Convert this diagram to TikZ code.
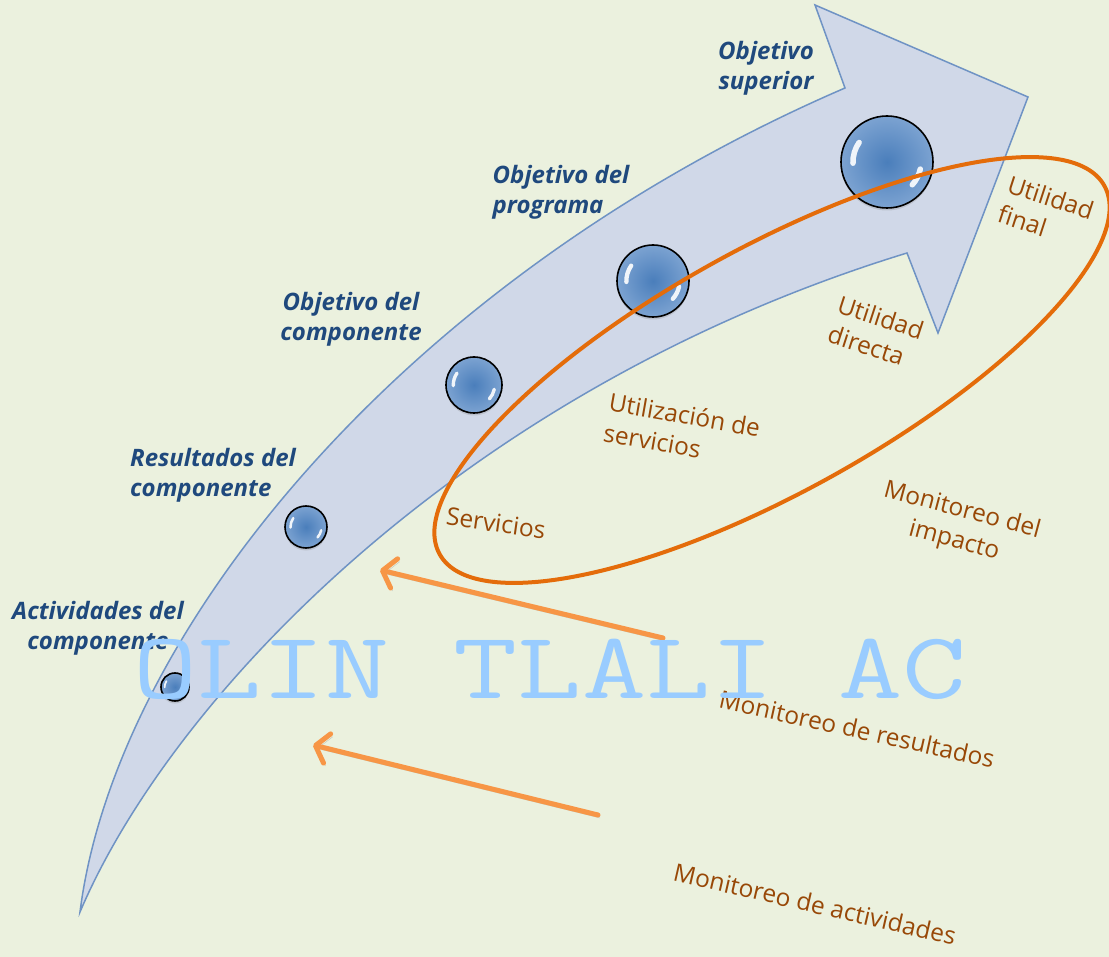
\documentclass[tikz,border=0pt]{standalone}
\usepackage{fontspec}
\newfontfamily\lblfont{Open Sans}
\usetikzlibrary{arrows.meta,shapes.geometric,shadows}
\definecolor{bgcol}{HTML}{EBF1DE}
\definecolor{shaftfill}{HTML}{D0D8E8}
\definecolor{shaftline}{HTML}{6F93C4}
\definecolor{ballblue}{HTML}{4A7EBB}
\definecolor{balllight}{HTML}{9DBBE0}
\definecolor{lblblue}{HTML}{1F497D}
\definecolor{lblbrown}{HTML}{984807}
\definecolor{ellcol}{HTML}{E46C0A}
\definecolor{arrcol}{HTML}{F79646}
\definecolor{wmcol}{HTML}{99CCFF}
\tikzset{
  shaftstyle/.style={fill=shaftfill, draw=shaftline, line width=1.5pt, line join=miter},
  ball/.style={circle, inner sep=0pt, draw=black, line width=1.6pt,
    inner color=ballblue, outer color=balllight!60!ballblue,
    drop shadow={opacity=0.25, shadow xshift=0pt, shadow yshift=-2.5pt}},
  glint/.style={white, opacity=0.9, line cap=round},
  bluelbl/.style={inner sep=0pt, text=lblblue, font=\lblfont\bfseries\itshape\fontsize{24}{30}\selectfont},
  brownlbl/.style={inner sep=0pt, text=lblbrown, font=\lblfont\fontsize{24.5}{31}\selectfont},
  oarrow/.style={draw=arrcol, line width=5pt, line cap=round,
    -{Straight Barb[length=12pt,width=30pt,line cap=round,line join=round]},
    preaction={draw=black!55, opacity=0.35, transform canvas={shift={(2pt,-3pt)}}}},
  ellstyle/.style={draw=ellcol, line width=4pt},
  watermark/.style={inner sep=0pt, text=wmcol, xscale=1.31, font=\ttfamily\fontsize{95}{100}\selectfont}
}
\begin{document}
\begin{tikzpicture}[x=1pt,y=1pt]
\useasboundingbox (0,0) rectangle (1109,-957);
\fill[bgcol] (0,0) rectangle (1109,-957);

% big curved arrow
\filldraw[shaftstyle]
  (80,-912) .. controls (115,-635) and (400,-280) .. (845,-88)
  -- (815,-5) -- (1028,-97) -- (938,-333) -- (907,-253)
  .. controls (460,-390) and (170,-700) .. (80,-912)
  -- cycle;

% spheres
\foreach \n/\x/\y/\r in {s1/175/687/14, s2/306/527/21, s3/474/385/28, s4/653/281/36, s5/887/162/46} {
  \node[ball, minimum size=2*\r] (\n) at (\x,-\y) {};
  \draw[glint, line width=0.12*\r] ([shift={(145:0.74*\r)}]\n.center) arc[start angle=145, end angle=182, radius=0.74*\r];
  \draw[glint, line width=0.12*\r] ([shift={(-42:0.74*\r)}]\n.center) arc[start angle=-42, end angle=-12, radius=0.74*\r];
}

% blue labels
\node[bluelbl, align=center] (lsup) at (766,-68) {Objetivo\\superior};
\node[bluelbl, align=left] (lprog) at (561,-192) {Objetivo del\\programa};
\node[bluelbl, align=center] (lcomp) at (351,-319) {Objetivo del\\componente};
\node[bluelbl, align=left] (lres) at (213,-475) {Resultados del\\componente};
\node[bluelbl, align=center] (lact) at (98,-628) {Actividades del\\componente};

% orange ellipse
\draw[ellstyle, rotate around={29:(772,-370)}] (772,-370) ellipse[x radius=380, y radius=122];

% brown labels
\node[brownlbl, align=left, rotate=-18] (tfin) at (1046,-212) {Utilidad\\final};
\node[brownlbl, align=left, rotate=-18] (tdir) at (876,-332) {Utilidad\\directa};
\node[brownlbl, align=left, rotate=-10] (tuti) at (682,-430) {Utilización de\\servicios};
\node[brownlbl, rotate=-8] (tser) at (496,-523) {Servicios};
\node[brownlbl, align=center, rotate=-15] (timp) at (958,-526) {Monitoreo del\\impacto};
\node[brownlbl, rotate=-12.5] (tres) at (857,-729) {Monitoreo de resultados};
\node[brownlbl, rotate=-13] (tact) at (815,-904) {Monitoreo de actividades};

% orange arrows
\coordinate (a1s) at (663,-638);
\coordinate (a1e) at (380,-570);
\coordinate (a2s) at (598,-815);
\coordinate (a2e) at (313,-745);
\draw[oarrow] (a1s) -- (a1e);
\draw[oarrow] (a2s) -- (a2e);

% watermark
\node[watermark, anchor=base] (wm) at (550,-698) {OLIN TLALI AC};
\end{tikzpicture}
\end{document}
